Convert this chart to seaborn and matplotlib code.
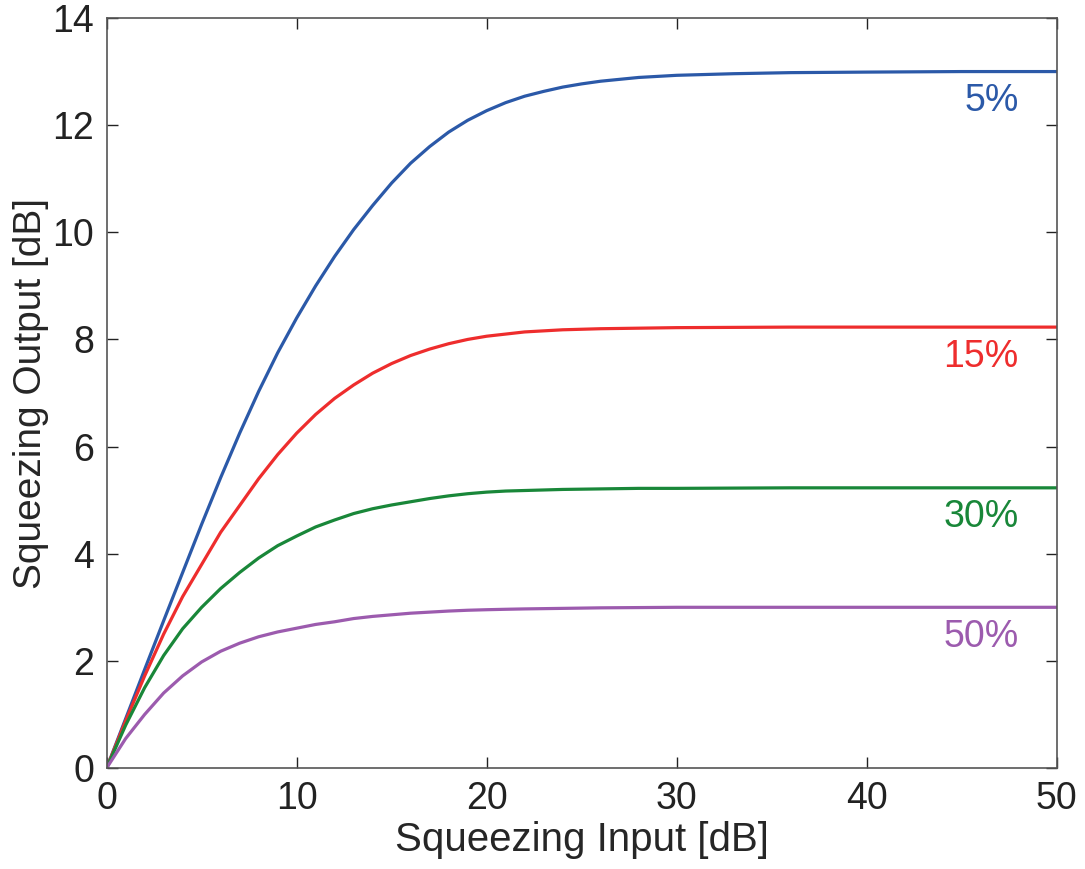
import pandas as pd
import matplotlib.pyplot as plt
import seaborn as sns

# Valores (entrada em dB -> saída em dB)
squeeze_in = [0, 1, 2, 3, 4, 5, 6, 7, 8, 9, 10, 11, 12, 13, 14, 15, 16, 17, 18, 19, 20,
              21, 22, 23, 24, 25, 26, 28, 30, 33, 36, 40, 45, 50]

loss_5 = [0, 0.92, 1.84, 2.75, 3.65, 4.55, 5.42, 6.25, 7.03, 7.75, 8.40, 9.0, 9.55, 10.05,
          10.5, 10.92, 11.29, 11.6, 11.87, 12.09, 12.27, 12.42, 12.54, 12.63, 12.71, 12.77,
          12.82, 12.89, 12.93, 12.96, 12.98, 12.99, 13.0, 13.0]
loss_15 = [0, 0.88, 1.72, 2.5, 3.2, 3.8, 4.4, 4.9, 5.4, 5.85, 6.25, 6.6, 6.9, 7.15, 7.37,
           7.55, 7.7, 7.82, 7.92, 8.0, 8.06, 8.1, 8.14, 8.16, 8.18, 8.19, 8.2, 8.21, 8.22,
           8.225, 8.23, 8.23, 8.23, 8.23]
loss_30 = [0, 0.8, 1.5, 2.1, 2.6, 3.0, 3.35, 3.65, 3.92, 4.15, 4.33, 4.5, 4.63, 4.75, 4.84,
           4.91, 4.97, 5.03, 5.08, 5.12, 5.15, 5.17, 5.18, 5.19, 5.2, 5.205, 5.21, 5.22, 5.22,
           5.225, 5.23, 5.23, 5.23, 5.23]
loss_50 = [0, 0.55, 1.0, 1.4, 1.72, 1.98, 2.18, 2.33, 2.45, 2.54, 2.61, 2.68, 2.73, 2.79,
           2.83, 2.86, 2.89, 2.91, 2.93, 2.945, 2.955, 2.963, 2.97, 2.975, 2.98, 2.985, 2.99,
           2.995, 3.0, 3.0, 3.0, 3.0, 3.0, 3.0]

loss_labels = ['5%', '15%', '30%', '50%']
series = [loss_5, loss_15, loss_30, loss_50]
colors = ['#2B59A8', '#EE2D2D', '#198739', '#9C5BAE']

# Montar tabela no formato longo
frames = []
for lab, vals in zip(loss_labels, series):
    frames.append(pd.DataFrame({'in': squeeze_in, 'out': vals, 'loss': lab}))
df = pd.concat(frames, ignore_index=True)

sns.set_style('ticks')
plt.rcParams['font.family'] = ['Liberation Sans', 'DejaVu Sans']

fig = plt.figure(figsize=(10.85, 8.69), dpi=100)
ax = fig.add_axes([0.0983, 0.1162, 0.8756, 0.8631])

sns.lineplot(data=df, x='in', y='out', hue='loss', palette=colors,
             linewidth=2.3, legend=False, ax=ax)

# Rótulos das curvas à direita
for lab, vals, c in zip(loss_labels, series, colors):
    ax.text(48, vals[-1] - 0.55, lab, color=c, fontsize=27, ha='right', va='center')

ax.set_xlim(0, 50)
ax.set_ylim(0, 14)
ax.set_xticks(range(0, 51, 10))
ax.set_yticks(range(0, 15, 2))
ax.tick_params(direction='in', length=8, width=1, top=True, right=True,
               labelsize=27, colors='#222222', pad=9)
for s in ax.spines.values():
    s.set_color('#555555')
    s.set_linewidth(1.2)

ax.set_xlabel('Squeezing Input [dB]', fontsize=29)
ax.set_ylabel('Squeezing Output [dB]', fontsize=28)
ax.xaxis.set_label_coords(0.5, -0.07)
ax.yaxis.set_label_coords(-0.061, 0.5)

fig.savefig('out.png', dpi=100)
